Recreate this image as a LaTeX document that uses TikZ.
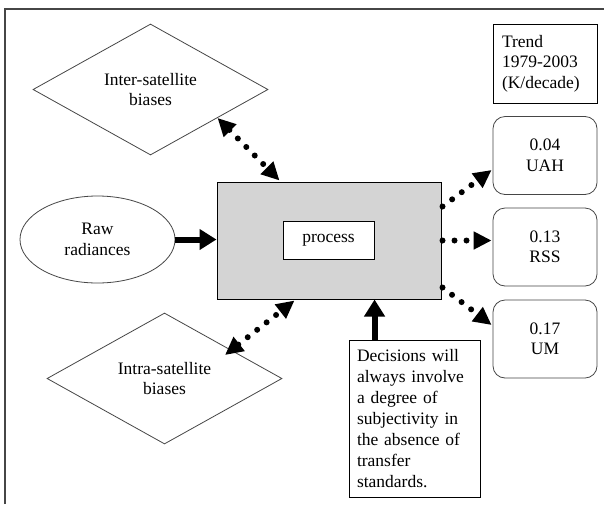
\documentclass[tikz,border=0pt]{standalone}
\usepackage{fontspec}
\setmainfont{Liberation Serif}
\usetikzlibrary{shapes.geometric,arrows.meta,calc}
\definecolor{procgray}{RGB}{212,212,212}
\definecolor{linegray}{RGB}{70,70,70}
\tikzset{
  lbl/.style={font=\fontsize{17.5}{20.5}\selectfont, align=center, inner sep=0pt},
  diam/.style={draw=linegray, line width=0.8pt, diamond, lbl, minimum width=235pt, minimum height=131pt},
  trendbox/.style={draw=black, line width=0.9pt, lbl, minimum width=104pt, minimum height=79pt},
  valbox/.style={draw=linegray, line width=0.8pt, rounded corners=12pt, lbl, minimum width=104pt, minimum height=78pt},
  dotarrow/.style={line width=6pt, line cap=round, dash pattern=on 0pt off 12pt, -{Triangle[length=18pt,width=17pt]}, shorten >=0pt},
  dotboth/.style={dotarrow, {Triangle[length=18pt,width=17pt]}-{Triangle[length=18pt,width=17pt]}},
  solidarrow/.style={line width=6pt, -{Triangle[length=17pt,width=20pt]}}
}
\begin{document}
\begin{tikzpicture}[x=1pt,y=-1pt]
\useasboundingbox (0,0) rectangle (604,504);
\fill[white] (0,0) rectangle (604,504);
% outer frame
\draw[linegray, line width=1.5pt] (5,504) -- (5,9) -- (604,9);

\node[diam] (inter) at (150.5,89.5) {Inter-satellite\\biases};
\node[diam] (intra) at (164.5,378.5) {Intra-satellite\\biases};
\node[draw=linegray, line width=0.8pt, ellipse, lbl, minimum width=155pt, minimum height=87pt] (raw) at (97.5,239.5) {Raw\\radiances};
\node[draw=black, line width=1pt, fill=procgray, minimum width=224pt, minimum height=117pt, inner sep=0pt] (process) at (329,240.5) {};
\node[draw=black, line width=0.9pt, fill=white, lbl, minimum width=91pt, minimum height=38pt] (inner) at (328.5,240) {process};

\node[trendbox, text width=86pt, align=left] (trend) at (545,63.5) {Trend\\1979-2003\\(K/decade)};
\node[valbox] (uah) at (545,155.5) {0.04\\UAH};
\node[valbox] (rss) at (545,247) {0.13\\RSS};
\node[valbox] (um) at (545,339) {0.17\\UM};

\node[draw=black, line width=0.9pt, font=\fontsize{17.5}{21}\selectfont, align=left, text width=115pt, inner sep=8pt, minimum width=131pt, minimum height=157pt] (decisions) at (414.5,418.5) {Decisions will\\always involve\\a degree of\\subjectivity in\\the absence of\\transfer\\standards.};

% connectors
\coordinate (interend) at ($(process.north west)+(63,-1)$);
\draw[dotboth] (inter.-23) -- (interend);
\draw[solidarrow] (raw.east) -- (raw.east -| process.west);
\coordinate (intratip) at ($(intra.center)+(60.5,-23.5)$);
\coordinate (intraend) at ($(process.south west)+(78,1)$);
\draw[dotboth] (intratip) -- (intraend);
\coordinate (uahs) at ($(process.north east)+(1,25)$);
\coordinate (uahe) at ($(uah.west)+(-1,14.5)$);
\draw[dotarrow] (uahs) -- (uahe);
\draw[dotarrow] ($(process.east)+(1,0)$) -- ($(process.east -| rss.west)+(-1,0)$);
\coordinate (ums) at ($(process.south east)+(1,-12)$);
\coordinate (ume) at ($(um.west)+(-1,-14)$);
\draw[dotarrow] (ums) -- (ume);
\coordinate (dtop) at ($(decisions.north west)+(26,0)$);
\draw[solidarrow] (dtop) -- (dtop |- process.south);
\end{tikzpicture}
\end{document}
